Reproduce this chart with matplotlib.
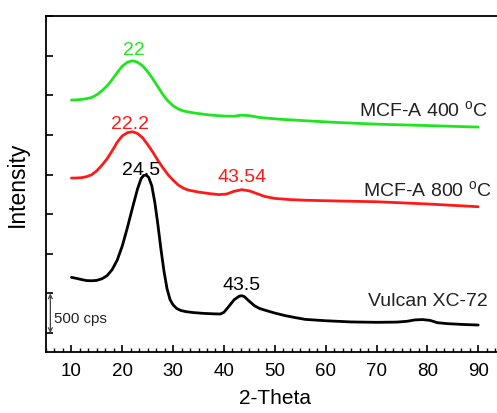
import matplotlib
matplotlib.use("Agg")
import matplotlib.pyplot as plt
from matplotlib.ticker import MultipleLocator, AutoMinorLocator, NullFormatter

plt.rcParams['font.family'] = ['Liberation Sans', 'DejaVu Sans']
plt.rcParams['mathtext.fontset'] = 'custom'
plt.rcParams['mathtext.rm'] = 'Liberation Sans'

# Vulcan XC-72 (black)
x_vulcan = [10, 11, 12, 13, 14, 15, 16, 17, 18, 19, 20, 21, 22, 23, 23.7, 24.2, 24.7, 25.2,
            25.8, 26.4, 27, 27.6, 28.2, 28.8, 29.4, 30, 30.7, 31.5, 32.5, 34, 36, 38, 39.3,
            40, 41, 42, 43, 43.5, 44, 45, 46, 47, 48.5, 50, 52, 54, 56, 60, 65, 70, 74, 76,
            77.5, 79, 80.5, 82, 84, 87, 90]
y_vulcan = [703, 690, 675, 662, 660, 665, 685, 724, 800, 920, 1100, 1330, 1580, 1820, 1950,
            1990, 1995, 1965, 1860, 1650, 1370, 1060, 780, 560, 420, 355, 310, 285, 270, 258,
            248, 242, 240, 262, 340, 420, 465, 471, 460, 400, 345, 310, 280, 252, 220, 195, 172,
            155, 140, 135, 138, 148, 165, 170, 160, 130, 118, 108, 101]

# MCF-A 800 °C (red)
x_800 = [10, 11, 12, 13, 14, 15, 16, 17, 18, 19, 20, 21, 22, 23, 24, 25, 26, 27, 28, 29, 30,
         31, 32, 33, 35, 37, 39, 40.5, 42, 43.5, 45, 46.5, 48, 50, 53, 56, 62, 70, 80, 90]
y_800 = [1957, 1958, 1962, 1975, 2000, 2050, 2120, 2200, 2300, 2410, 2490, 2530, 2542, 2520,
         2465, 2380, 2285, 2180, 2085, 2000, 1930, 1870, 1830, 1805, 1780, 1762, 1748, 1755,
         1790, 1810, 1795, 1760, 1725, 1700, 1685, 1677, 1668, 1658, 1630, 1595]

# MCF-A 400 °C (green)
x_400 = [10, 11, 12, 13, 14, 15, 16, 17, 18, 19, 20, 21, 22, 23, 24, 25, 26, 27, 28, 29, 30,
         31, 32, 34, 37, 40, 42, 43.5, 45, 47, 51, 56, 62, 70, 80, 90]
y_400 = [2942, 2945, 2950, 2960, 2975, 3010, 3060, 3120, 3200, 3290, 3370, 3420, 3438, 3420,
         3375, 3300, 3210, 3110, 3010, 2930, 2870, 2830, 2805, 2780, 2755, 2740, 2738, 2752,
         2745, 2722, 2700, 2681, 2660, 2638, 2620, 2601]

series_names = ["Vulcan XC-72", "MCF-A 800 $^\\mathrm{o}$C", "MCF-A 400 $^\\mathrm{o}$C"]
series_colors = ["black", "#ff1a1a", "#1ee51e"]

fig = plt.figure(figsize=(4.97, 4.14), dpi=100)
ax = fig.add_axes([0.0926, 0.1473, 0.9207, 0.8128])

lw = 2.0
for xs, ys, c in [(x_vulcan, y_vulcan, series_colors[0]),
                  (x_800, y_800, series_colors[1]),
                  (x_400, y_400, series_colors[2])]:
    ax.plot(xs, ys, color=c, lw=lw, solid_joinstyle='round', solid_capstyle='round')

ax.set_xlim(5, 95)
ax.set_ylim(-240, 4010)

ax.xaxis.set_major_locator(MultipleLocator(10))
ax.xaxis.set_minor_locator(AutoMinorLocator(6))
ax.yaxis.set_major_locator(MultipleLocator(500))
ax.yaxis.set_major_formatter(NullFormatter())
ax.tick_params(axis='x', which='major', direction='in', length=5, width=1.2, labelsize=13.5, pad=7)
ax.tick_params(axis='x', which='minor', direction='in', length=3, width=1.0)
ax.tick_params(axis='y', which='major', direction='in', length=5, width=1.2)
ax.tick_params(top=False, right=False)
for s in ax.spines.values():
    s.set_linewidth(1.3)

ax.set_xlabel("2-Theta", fontsize=15, labelpad=7)
ax.set_ylabel("Intensity", fontsize=16.5, labelpad=9)

fs = 14
ax.text(22.2, 3586, "22", color=series_colors[2], fontsize=fs, ha='center', va='center')
ax.text(21.6, 2652, "22.2", color=series_colors[1], fontsize=fs, ha='center', va='center')
ax.text(23.7, 2060, "24.5", color=series_colors[0], fontsize=fs, ha='center', va='center')
ax.text(43.6, 1979, "43.54", color=series_colors[1], fontsize=fs, ha='center', va='center')
ax.text(43.4, 610, "43.5", color=series_colors[0], fontsize=fs, ha='center', va='center')

ax.text(91.9, 2820, series_names[2], color='#222222', fontsize=14, ha='right', va='center')
ax.text(92.6, 1810, series_names[1], color='#222222', fontsize=14, ha='right', va='center')
ax.text(91.9, 408, series_names[0], color='#222222', fontsize=14, ha='right', va='center')

# 500 cps scale bar
ax.annotate("", xy=(5.85, 0), xytext=(5.85, 500),
            arrowprops=dict(arrowstyle='<->', color='#444444', lw=0.9,
                            shrinkA=0, shrinkB=0, mutation_scale=7))
ax.text(6.5, 190, "500 cps", fontsize=10.8, ha='left', va='center', color='#222222')

fig.savefig("out.png", dpi=100)
